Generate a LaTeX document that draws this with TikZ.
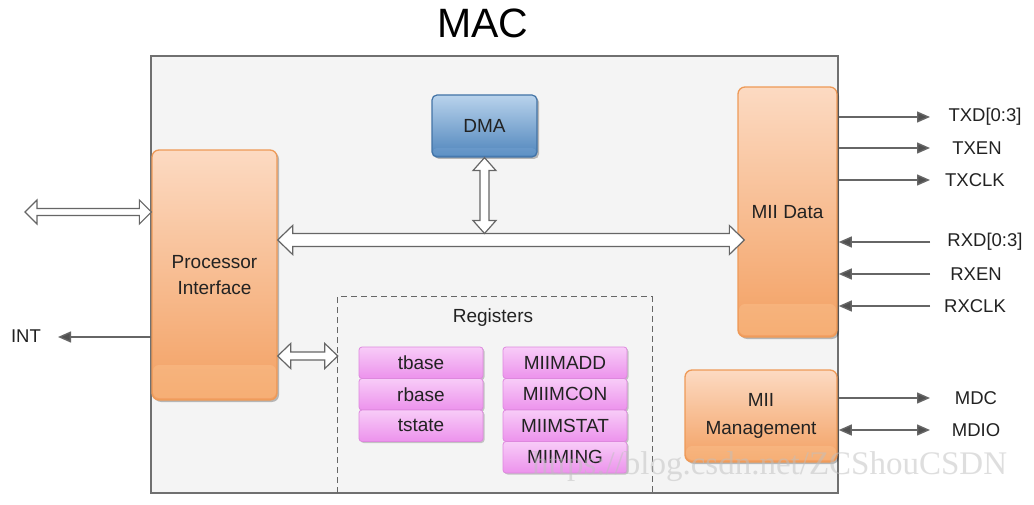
\documentclass[tikz,border=0pt]{standalone}
\usepackage{fontspec}
\setmainfont{Liberation Sans}
\newfontfamily\wmfont{Liberation Serif}
\usetikzlibrary{arrows.meta,calc,shadows}
\definecolor{frameC}{HTML}{707070}
\definecolor{panelC}{HTML}{F4F4F4}
\definecolor{orBorder}{HTML}{EE9A58}
\definecolor{orTop}{HTML}{FCDAC2}
\definecolor{orMid}{HTML}{F7B685}
\definecolor{orBot}{HTML}{F3A062}
\definecolor{orBandT}{HTML}{FAD2B2}
\definecolor{orBandB}{HTML}{F6AE74}
\definecolor{blBorder}{HTML}{4273A6}
\definecolor{blTop}{HTML}{B9D3EC}
\definecolor{blMid}{HTML}{7AA5D1}
\definecolor{blBot}{HTML}{4F85BC}
\definecolor{blBandT}{HTML}{A9C8E8}
\definecolor{blBandB}{HTML}{5D90C4}
\definecolor{pkBorder}{HTML}{DE88DE}
\definecolor{pkTop}{HTML}{F8CCF8}
\definecolor{pkBot}{HTML}{EC92EC}
\definecolor{lineC}{HTML}{666666}
\definecolor{tipC}{HTML}{505050}
\definecolor{txtC}{HTML}{222222}
\newcommand\hollowH[5]{% left tip, right tip, shaft half, head half, head length
  \draw[hollowar] (#1) -- ($(#1)+(#5,-#4)$) -- ($(#1)+(#5,-#3)$) -- ($(#2)+(-#5,-#3)$)
    -- ($(#2)+(-#5,-#4)$) -- (#2) -- ($(#2)+(-#5,#4)$) -- ($(#2)+(-#5,#3)$)
    -- ($(#1)+(#5,#3)$) -- ($(#1)+(#5,#4)$) -- cycle;}
\newcommand\hollowV[5]{% top tip, bottom tip, shaft half, head half, head length
  \draw[hollowar] (#1) -- ($(#1)+(#4,#5)$) -- ($(#1)+(#3,#5)$) -- ($(#2)+(#3,-#5)$)
    -- ($(#2)+(#4,-#5)$) -- (#2) -- ($(#2)+(-#4,-#5)$) -- ($(#2)+(-#3,-#5)$)
    -- ($(#1)+(-#3,#5)$) -- ($(#1)+(-#4,#5)$) -- cycle;}
\begin{document}
\begin{tikzpicture}[x=1pt,y=-1pt,
  lbl/.style={font=\fontsize{18.5}{20}\selectfont, text=txtC},
  boxtxt/.style={font=\fontsize{19}{22}\selectfont, text=txtC, align=center},
  orbox/.style={boxtxt, rounded corners=7pt, draw=orBorder, line width=1.3pt,
    top color=orTop, middle color=orMid, bottom color=orBot,
    drop shadow={shadow xshift=2pt, shadow yshift=-2pt, opacity=.25, fill=black},
    path picture={\shade[top color=orBandT, bottom color=orBandB, rounded corners=6pt]
      ($(path picture bounding box.south west)+(1pt,2pt)$) rectangle
      ($(path picture bounding box.south east)+(-1pt,#1)$);}},
  blbox/.style={boxtxt, rounded corners=5pt, draw=blBorder, line width=1.2pt,
    top color=blTop, middle color=blMid, bottom color=blBot,
    drop shadow={shadow xshift=2pt, shadow yshift=-2pt, opacity=.25, fill=black},
    path picture={\shade[top color=blBandT, bottom color=blBandB, rounded corners=4pt]
      ($(path picture bounding box.south west)+(1pt,1.5pt)$) rectangle
      ($(path picture bounding box.south east)+(-1pt,9pt)$);}},
  pkcell/.style={boxtxt, rounded corners=3pt, draw=pkBorder, line width=.8pt,
    top color=pkTop, bottom color=pkBot, minimum width=124pt, minimum height=31.5pt,
    inner sep=0pt,
    drop shadow={shadow xshift=1.5pt, shadow yshift=-1.5pt, opacity=.2, fill=black}},
  hollowar/.style={fill=white, draw=lineC, line width=1.2pt, line join=miter},
  sig/.style={draw=lineC, line width=1.4pt, -{Triangle[length=13pt,width=11pt,fill=tipC]}},
  sigb/.style={draw=lineC, line width=1.4pt,
    {Triangle[length=13pt,width=11pt,fill=tipC]}-{Triangle[length=13pt,width=11pt,fill=tipC]}}
]
\useasboundingbox (0,0) rectangle (1034,505);
\fill[white] (0,0) rectangle (1034,505);

% title
\node[font=\fontsize{41}{44}\selectfont, text=black] (title) at (483,23) {MAC};

% main panel
\node[draw=frameC, line width=1.5pt, fill=panelC, minimum width=687pt, minimum height=437pt,
  inner sep=0pt] (mac) at (494.5,274.5) {};

% registers dashed region
\node[minimum width=314pt, minimum height=196pt, inner sep=0pt] (reg) at (495,395) {};
\draw[draw=lineC, line width=1.1pt, dash pattern=on 6pt off 4pt]
  (reg.south west) |- (reg.north east) -- (reg.south east);
\node[boxtxt] (regt) at (493,318) {Registers};

% blocks
\node[orbox=35pt, minimum width=125pt, minimum height=250pt] (pi) at (214.5,275)
  {Processor\\[4pt]Interface};
\node[blbox, minimum width=105pt, minimum height=62pt] (dma) at (484.5,126) {DMA};
\node[orbox=33pt, minimum width=99pt, minimum height=250pt] (miid) at (787.5,212) {MII Data};
\node[orbox=16pt, minimum width=152pt, minimum height=92pt] (mgmt) at (761,416)
  {MII\\[6pt]Management};

% register cells
\node[pkcell] (tb) at (421,362.75) {tbase};
\node[pkcell] (rb) at (421,394.25) {rbase};
\node[pkcell] (ts) at (421,425.75) {tstate};
\node[pkcell] (madd) at (565,362.75) {MIIMADD};
\node[pkcell] (mcon) at (565,394.25) {MIIMCON};
\node[pkcell] (mstat) at (565,425.75) {MIIMSTAT};
\node[pkcell] (ming) at (565,457.25) {MIIMING};

% hollow bus arrows
\coordinate (ext) at (25,212);
\coordinate (busy) at (0,240);
\coordinate (regy) at (0,356);
\hollowH{ext}{pi.west |- ext}{3.5}{12}{12}
\coordinate (busR) at ($(miid.west |- busy)+(7,0)$);
\hollowH{pi.east |- busy}{busR}{6.5}{14.5}{15}
\coordinate (busTop) at ($(dma.south |- busy)+(0,-6.5)$);
\hollowV{dma.south}{busTop}{4.5}{11.5}{13}
\hollowH{pi.east |- regy}{reg.west |- regy}{4}{12.5}{13}

% INT
\node[lbl] (int) at (26,336) {INT};
\coordinate (inttip) at (58,337);
\draw[sig] (pi.west |- inttip) -- (inttip);

% MII signals
\coordinate (col) at (930,0);
\node[lbl] (txd) at (985,117) {TXD[0:3]};
\node[lbl] (txen) at (977,148) {TXEN};
\node[lbl] (txclk) at (975,180) {TXCLK};
\node[lbl] (rxd) at (985,242) {RXD[0:3]};
\node[lbl] (rxen) at (976,274) {RXEN};
\node[lbl] (rxclk) at (975,306) {RXCLK};
\node[lbl] (mdc) at (976,398) {MDC};
\node[lbl] (mdio) at (976,430) {MDIO};
\draw[sig] (mac.east |- txd) -- (col |- txd);
\draw[sig] (mac.east |- txen) -- (col |- txen);
\draw[sig] (mac.east |- txclk) -- (col |- txclk);
\draw[sig] (col |- rxd) -- (mac.east |- rxd);
\draw[sig] (col |- rxen) -- (mac.east |- rxen);
\draw[sig] (col |- rxclk) -- (mac.east |- rxclk);
\draw[sig] (mac.east |- mdc) -- (col |- mdc);
\draw[sigb] (mac.east |- mdio) -- (col |- mdio);

% watermark
\node[anchor=base west, font=\wmfont\fontsize{33}{36}\selectfont, text=black!25, opacity=.5,
  inner sep=0pt] (wm) at (532,474) {https://blog.csdn.net/ZCShouCSDN};
\end{tikzpicture}
\end{document}
